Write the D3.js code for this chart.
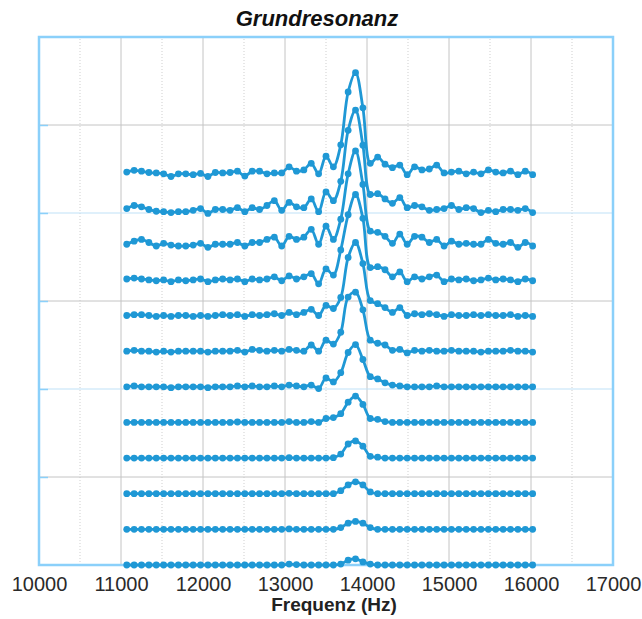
<!DOCTYPE html>
<html>
<head>
<meta charset="utf-8">
<script src="https://cdn.jsdelivr.net/npm/d3@7"></script>
<style>
  body { margin: 0; background: #fff; font-family: "Liberation Sans", Arial, sans-serif; }
  .grid-major { stroke: #c4c4c4; stroke-width: 1; }
  .grid-minor { stroke: #cfcfcf; stroke-width: 1; stroke-dasharray: 1,2; }
  .grid-blue { stroke: #bfe2f7; stroke-width: 1.2; }
</style>
</head>
<body>
<div id="chart"></div>
<script>
// sweep frequencies (Hz)
const frequencies = [
  11070, 11160, 11250, 11340, 11430, 11520, 11610, 11700, 11790, 11880,
  11970, 12060, 12150, 12240, 12330, 12420, 12510, 12600, 12690, 12780,
  12870, 12960, 13050, 13140, 13230, 13320, 13410, 13500, 13590, 13680,
  13770, 13860, 13950, 14040, 14130, 14220, 14310, 14400, 14490, 14580,
  14670, 14760, 14850, 14940, 15030, 15120, 15210, 15300, 15390, 15480,
  15570, 15660, 15750, 15840, 15930, 16020
];

const xTickValues = [10000, 11000, 12000, 13000, 14000, 15000, 16000, 17000];
const xMinorValues = [10500, 11500, 12500, 13500, 14500, 15500, 16500];
const yGridValues = [100, 200, 300, 400, 500];

// vertical offset of each sweep in the waterfall (bottom to top)
const sweepOffsets = [0, 40.5, 81, 121.5, 162, 202.5, 243, 283.5, 324, 364.5, 405, 445.5];

// amplitude of each sweep, bottom (weakest) to top (strongest)
const sweep01 = [
  0, 0, 0, 0, 0, 0, 0, 0, 0, 0,
  0, 0, 0, 0, 0, 0, 0, 0, 0, 0,
  0, 0, 1, 0.5, 0, 0, 0, 0, 0, 1,
  5.5, 7, 3.5, 1, 0, 0, 0, 0, 0, 0,
  0, 0, 0, 0, 0, 0, 0, 0, 0, 0,
  0, 0, 0, 0, 0, 0
];
const sweep02 = [
  0, 0, 0, 0, 0, 0, 0, 0, 0, 0,
  0, 0, 0, 0, 0, 0, 0, 0, 0, 0,
  0, 0, 0.5, 0, 0, 0, 0, 0, 0, 2,
  7, 9, 7, 2, 0, 0, 0, 0, 0, 0,
  0, 0, 0, 0, 0, 0, 0, 0, 0, 0,
  0, 0, 0, 0, 0, 0
];
const sweep03 = [
  0, 0, 0, 0, 0, 0, 0, 0, 0, 0,
  0, 0, 0, 0, 0, 0, 0, 0, 0, 0,
  0, 0, 0.5, 0, 0, 0, 0, 0, 0, 3.5,
  10, 13.5, 10, 2, 0, 0, 0, 0, 0, 0,
  0, 0, 0, 0, 0, 0, 0, 0, 0, 0,
  0, 0, 0, 0, 0, 0
];
const sweep04 = [
  0, 0, 0, 0, 0, 0, 0, 0, 0, 0,
  0, 0, 0, 0, 0, 0, 0, 0, 0, 0,
  0, 0, 0.5, 0, 0, 0, 0, 0, 0.5, 4.5,
  16, 19.5, 13.5, 2, 1, 0, 0, 0, 0, 0,
  0, 0, 0, 0, 0, 0, 0, 0, 0, 0,
  0, 0, 0, 0, 0, 0
];
const sweep05 = [
  0, 0, 0, 0, 0, 0, 0, 0, 0, 0,
  0, 0, 0, 0, 0, 0.5, 0, 0, 0, 0,
  0, 0, 1, 0, 0, 1, 0, 4.5, 5.5, 10,
  23, 30, 20.5, 4.5, 3.5, 1, 0, 0, 0, 0,
  0, 0, 0, 0, 0, 0, 0, 0, 0, 0,
  0, 0, 0, 0, 0, 0
];
const sweep06 = [
  0, 1, 0, 0, 0, 0, -1, 0, 0, 0,
  0, -1, 0, 0, 0, 1, 0, 1, 0, 0,
  1, 0, 2, 1, 0, 2, -2, 10, 5.5, 16,
  39, 48, 31, 11.5, 9, 4.5, 2, 1, 0, 0,
  0, 0, 1, 0, 0, 0, 0, 0, 0, 0,
  0, 0, 0, 0, 0, 0
];
const sweep07 = [
  0, 1, 0, 0, -1, 0, -1, 0, 0, 0,
  0, -1, 0, 0, 0, 1, -1, 2, 1, 0,
  1, 0, 2, 1, 0, 7, 0, 12.5, 8, 21.5,
  61.5, 67, 47, 12.5, 9, 7, 1, 2, -2, 1,
  0, 1, 0, 0, 1, 0, 0, 0, -1, 0,
  0, 0, 1, 0, 0, -1
];
const sweep08 = [
  0, 1, 1, 0, -1, 0, -1, 0, 0, -1,
  0, -1, 0, 1, 0, 1, -1, 1, 0, 1,
  2, 0, 3.5, 1, 3.5, 7, 0, 11.5, 8, 20.5,
  66, 83, 59, 17, 13.5, 9, 3.5, 9, 0, 2,
  1, 2, 1, -1, 1, 0, 0, 1, 0, 1,
  0, 0, 1, -1, 0, -1
];
const sweep09 = [
  1, 2, 1, 0, -1, 0, -2, 0, -1, 0,
  1, -2, 0, 1, 0, 1, -2, 1, 0, 1,
  3.5, -1, 4.5, 1, 3.5, 7, -4.5, 12.5, 5.5, 34,
  74, 97, 70, 14, 15, 11.5, 3.5, 9, -2, 3.5,
  1, 3.5, 5.5, -2, 1, 0, 1, -1, 0, 2,
  0, 1, 0, -2, 1, -1
];
const sweep10 = [
  0, 3.5, 5.5, 2, -2, 1, -1, -2, -2, -1,
  1, -3.5, 0, 0, 0, 2, -2, 2, 2, 5.5,
  8, -2, 9, 5.5, 8, 17, 0, 20.5, 5.5, 28.5,
  80, 106, 68, 15, 13.5, 9, 1, 11.5, 0, 9,
  8, 2, 5.5, -2, 3.5, 0, 1, 0, 0, 5.5,
  1, 0, 2, -3.5, 2, -2
];
const sweep11 = [
  0, 3.5, 2, -1, -3, -3.5, -4.5, -3.5, -3.5, -2,
  0, -5.5, -1, -1, -2, 1, -3.5, 1, -1, 3.5,
  9, -2, 7, 2, 1, 11, -3.5, 19, 9, 31,
  89, 112, 72, 16, 17, 11, 6, 12.5, 1, 3.5,
  2, -2, -1, 0, 3.5, -1, 1, 0, -4.5, -2,
  -3.5, -1, -1, -2, 0, -4.5
];
const sweep12 = [
  1, 3, 2, 0.5, 0, -1, -4, -1, -1, -2,
  -0.5, -4, 0.5, 0, 0.5, 2, -3.5, 2, 2, -1,
  0, 0, 7, 2, 3.5, 11, -1, 19, 7, 32,
  92, 114, 74, 11, 18, 10, 6, 9, -2, 7,
  3.5, 4.5, 9, 0, 1, 2, -1, 1, -1, 3.5,
  1, 0, 2, -2, 2, -2
];

const sweeps = [sweep01, sweep02, sweep03, sweep04, sweep05, sweep06,
                sweep07, sweep08, sweep09, sweep10, sweep11, sweep12];

const width = 642, height = 619;
const margin = { top: 37, right: 29, bottom: 54, left: 39 };
const lineColor = "#1f98d5";
const frameColor = "#8bd0fa";

const svg = d3.select("#chart").append("svg")
  .attr("width", width)
  .attr("height", height);

const x = d3.scaleLinear().domain([10000, 17000]).range([margin.left, width - margin.right]);
const y = d3.scaleLinear().domain([0, 600]).range([height - margin.bottom, margin.top]);

// grid
const grid = svg.append("g");
grid.selectAll(".grid-minor").data(xMinorValues).enter().append("line")
  .attr("class", "grid-minor")
  .attr("x1", d => x(d)).attr("x2", d => x(d))
  .attr("y1", y(0)).attr("y2", y(600));
grid.selectAll(".grid-major").data(xTickValues.slice(1, -1)).enter().append("line")
  .attr("class", "grid-major")
  .attr("x1", d => x(d)).attr("x2", d => x(d))
  .attr("y1", y(0)).attr("y2", y(600));
grid.selectAll(".grid-h").data(yGridValues).enter().append("line")
  .attr("class", d => (d / 100) % 2 === 0 ? "grid-h grid-blue" : "grid-h grid-major")
  .attr("x1", x(10000)).attr("x2", x(17000))
  .attr("y1", d => y(d)).attr("y2", d => y(d));

// small inward ticks on the left edge
const yAxis = svg.append("g")
  .attr("transform", `translate(${margin.left},0)`)
  .call(d3.axisLeft(y).tickValues(yGridValues).tickSize(-9).tickFormat(""));
yAxis.select(".domain").remove();
yAxis.selectAll("line").attr("stroke", frameColor).attr("stroke-width", 1.5);

// frame
svg.append("rect")
  .attr("x", x(10000)).attr("y", y(600))
  .attr("width", x(17000) - x(10000))
  .attr("height", y(0) - y(600))
  .attr("fill", "none")
  .attr("stroke", frameColor)
  .attr("stroke-width", 2.5);

// x axis labels
const xAxis = svg.append("g")
  .attr("transform", `translate(0,${y(0)})`)
  .call(d3.axisBottom(x).tickValues(xTickValues).tickSize(0).tickPadding(12).tickFormat(d3.format("d")));
xAxis.select(".domain").remove();
xAxis.selectAll("text")
  .attr("font-family", "'Liberation Sans', Arial, sans-serif")
  .attr("font-size", 20)
  .attr("fill", "#2a2a2a");

// sweeps
const line = d3.line()
  .x((d, i) => x(frequencies[i]))
  .y(d => y(d))
  .curve(d3.curveCatmullRom.alpha(0.5));

sweeps.forEach((values, k) => {
  const shifted = values.map(v => v + sweepOffsets[k]);
  const g = svg.append("g");
  g.append("path")
    .datum(shifted)
    .attr("d", line)
    .attr("fill", "none")
    .attr("stroke", lineColor)
    .attr("stroke-width", 2.8)
    .attr("stroke-linejoin", "round");
  g.selectAll("circle").data(shifted).enter().append("circle")
    .attr("cx", (d, i) => x(frequencies[i]))
    .attr("cy", d => y(d))
    .attr("r", 3.4)
    .attr("fill", lineColor);
});

// title and axis title
svg.append("text")
  .attr("x", 317).attr("y", 26)
  .attr("text-anchor", "middle")
  .attr("font-size", 22)
  .attr("font-weight", "bold")
  .attr("font-style", "italic")
  .attr("fill", "#111")
  .text("Grundresonanz");

svg.append("text")
  .attr("x", 334).attr("y", 611)
  .attr("text-anchor", "middle")
  .attr("font-size", 19)
  .attr("font-weight", "bold")
  .attr("fill", "#222")
  .text("Frequenz (Hz)");
</script>
</body>
</html>
